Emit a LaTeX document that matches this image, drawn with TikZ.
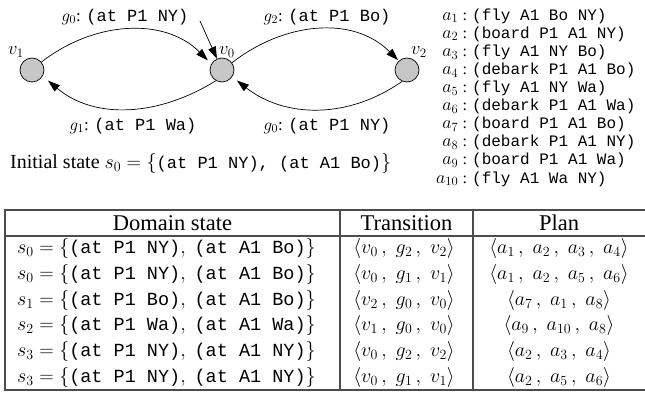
\RequirePackage{fix-cm}
\documentclass[tikz,border=0pt]{standalone}
\usepackage{fontspec}
\setmainfont{Liberation Serif}
\setmonofont{Liberation Mono}
\usetikzlibrary{arrows.meta}
\newcommand\tsep{\,,\;}
\newcommand\ttc[1]{\hbox{\fontsize{18.5}{22}\selectfont\ttfamily #1}}
\newcommand\an[1]{\makebox[20pt][r]{\fontsize{18}{20}\selectfont$a_{#1}$}\hspace{4.5pt}:\hspace{5pt}}
\begin{document}
\begin{tikzpicture}[x=1pt,y=-1pt,
  vert/.style={circle,draw=black,line width=0.7pt,fill=black!22,minimum size=24pt,inner sep=0pt},
  vlab/.style={font=\fontsize{18.5}{20}\selectfont,inner sep=0pt},
  elab/.style={font=\fontsize{17}{20}\selectfont,inner sep=0pt},
  arc/.style={line width=0.7pt,-{Triangle[length=12pt,width=8pt]}},
  act/.style={font=\fontsize{16}{18}\selectfont,anchor=west,inner sep=0pt},
  tline/.style={draw=black!70,line width=1.2pt},
  thead/.style={font=\fontsize{22.5}{24}\selectfont,inner sep=0pt},
  tcell/.style={font=\fontsize{20}{22}\selectfont,inner sep=0pt},
]
\useasboundingbox (0,0) rectangle (645,395);
% graph
\node[vert] (v1) at (32,70) {};
\node[vert] (v0) at (222,70) {};
\node[vert] (v2) at (407,70) {};
\node[vlab] (lv1) at (16,52) {$v_1$};
\node[vlab] (lv0) at (227,52) {$v_0$};
\node[vlab] (lv2) at (419,52) {$v_2$};
\draw[arc,shorten >=5pt] (v1.40) to[out=38,in=135] (v0.150);
\draw[arc,shorten >=7pt] (v0.240) to[out=212,in=-40] (v1.-30);
\draw[arc,shorten >=1pt] (v0.36) to[out=38,in=135] (v2.132);
\draw[arc,shorten >=6pt] (v2.247) to[out=215,in=-38] (v0.-34);
\coordinate (pt) at (200,21);
\draw[arc] (pt) -- (v0);
\node[elab] (g0t) at (125,17) {$g_0$: \texttt{(at P1 NY)}};
\node[elab] (g2t) at (327,17) {$g_2$: \texttt{(at P1 Bo)}};
\node[elab] (g1b) at (133,126) {$g_1$: \texttt{(at P1 Wa)}};
\node[elab] (g0b) at (327,126) {$g_0$: \texttt{(at P1 NY)}};
\node[anchor=west,inner sep=0pt] (init) at (10,164) {\fontsize{20}{24}\selectfont Initial state $s_0=\bigl\{${\fontsize{17}{20}\selectfont\ttfamily (at P1 NY), (at A1 Bo)}$\bigr\}$};
% actions
\node[act] (a1) at (438,16) {\an{1}\texttt{(fly A1 Bo NY)}};
\node[act] (a2) at (438,34.1) {\an{2}\texttt{(board P1 A1 NY)}};
\node[act] (a3) at (438,52.2) {\an{3}\texttt{(fly A1 NY Bo)}};
\node[act] (a4) at (438,70.3) {\an{4}\texttt{(debark P1 A1 Bo)}};
\node[act] (a5) at (438,88.4) {\an{5}\texttt{(fly A1 NY Wa)}};
\node[act] (a6) at (438,106.5) {\an{6}\texttt{(debark P1 A1 Wa)}};
\node[act] (a7) at (438,124.6) {\an{7}\texttt{(board P1 A1 Bo)}};
\node[act] (a8) at (438,142.7) {\an{8}\texttt{(debark P1 A1 NY)}};
\node[act] (a9) at (438,160.8) {\an{9}\texttt{(board P1 A1 Wa)}};
\node[act] (a10) at (438,178.9) {\an{10}\texttt{(fly A1 Wa NY)}};
% table
\draw[tline] (5,210) rectangle (648,390);
\draw[tline] (5,236) -- (648,236);
\draw[tline] (340,210) -- (340,390);
\draw[tline] (473,210) -- (473,390);
\node[thead] (hd) at (172.5,223) {Domain state};
\node[thead] (ht) at (406.5,223) {Transition};
\node[thead] (hp) at (559,223) {Plan};
\node[tcell,anchor=west] (s1) at (17,249) {$s_0=\bigl\{\ttc{(at P1 NY)},\;\ttc{(at A1 Bo)}\bigr\}$};
\node[tcell,anchor=west] (s2) at (17,274.5) {$s_0=\bigl\{\ttc{(at P1 NY)},\;\ttc{(at A1 Bo)}\bigr\}$};
\node[tcell,anchor=west] (s3) at (17,300.2) {$s_1=\bigl\{\ttc{(at P1 Bo)},\;\ttc{(at A1 Bo)}\bigr\}$};
\node[tcell,anchor=west] (s4) at (17,325.8) {$s_2=\bigl\{\ttc{(at P1 Wa)},\;\ttc{(at A1 Wa)}\bigr\}$};
\node[tcell,anchor=west] (s5) at (17,351.5) {$s_3=\bigl\{\ttc{(at P1 NY)},\;\ttc{(at A1 NY)}\bigr\}$};
\node[tcell,anchor=west] (s6) at (17,377.2) {$s_3=\bigl\{\ttc{(at P1 NY)},\;\ttc{(at A1 NY)}\bigr\}$};
\node[tcell] (t1) at (404,249) {$\langle v_0\tsep g_2\tsep v_2\rangle$};
\node[tcell] (t2) at (404,274.5) {$\langle v_0\tsep g_1\tsep v_1\rangle$};
\node[tcell] (t3) at (404,300.2) {$\langle v_2\tsep g_0\tsep v_0\rangle$};
\node[tcell] (t4) at (404,325.8) {$\langle v_1\tsep g_0\tsep v_0\rangle$};
\node[tcell] (t5) at (404,351.5) {$\langle v_0\tsep g_2\tsep v_2\rangle$};
\node[tcell] (t6) at (404,377.2) {$\langle v_0\tsep g_1\tsep v_1\rangle$};
\node[tcell] (p1) at (559,249) {$\langle a_1\tsep a_2\tsep a_3\tsep a_4\rangle$};
\node[tcell] (p2) at (559,274.5) {$\langle a_1\tsep a_2\tsep a_5\tsep a_6\rangle$};
\node[tcell] (p3) at (559,300.2) {$\langle a_7\tsep a_1\tsep a_8\rangle$};
\node[tcell] (p4) at (559,325.8) {$\langle a_9\tsep a_{10}\tsep a_8\rangle$};
\node[tcell] (p5) at (559,351.5) {$\langle a_2\tsep a_3\tsep a_4\rangle$};
\node[tcell] (p6) at (559,377.2) {$\langle a_2\tsep a_5\tsep a_6\rangle$};
\end{tikzpicture}
\end{document}
